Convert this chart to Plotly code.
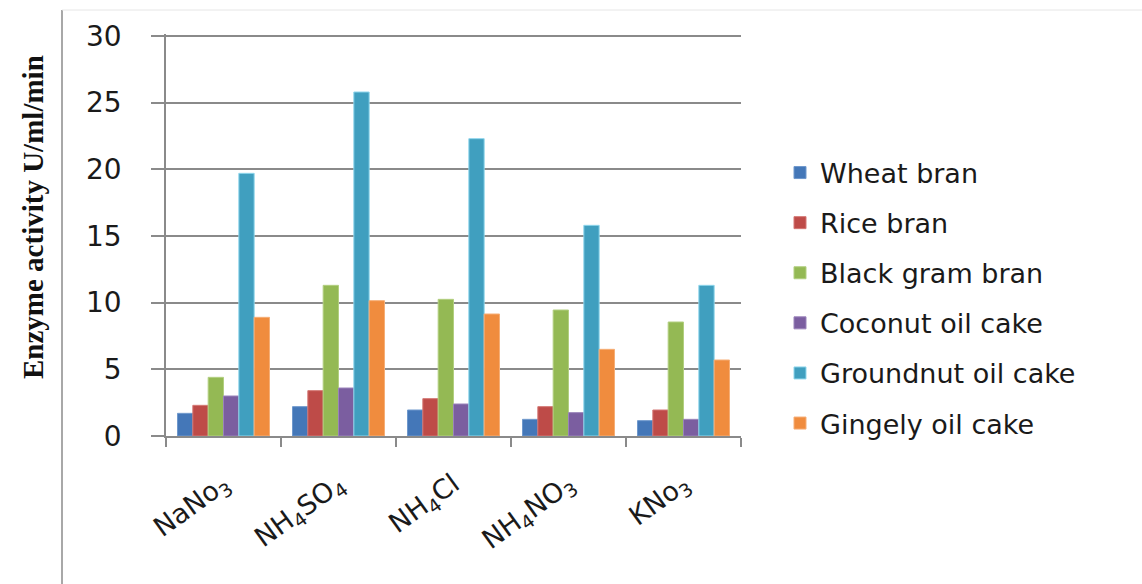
import plotly.graph_objects as go

# Nitrogen sources (x categories)
sources = ["NaNo<sub>3</sub>", "NH<sub>4</sub>SO<sub>4</sub>", "NH<sub>4</sub>Cl",
           "NH<sub>4</sub>NO<sub>3</sub>", "KNo<sub>3</sub>"]

# Enzyme activity (U/ml/min) per substrate
wheat_bran = [1.7, 2.2, 1.95, 1.25, 1.15]
rice_bran = [2.3, 3.4, 2.8, 2.2, 1.95]
black_gram_bran = [4.4, 11.3, 10.25, 9.45, 8.55]
coconut_oil_cake = [3.0, 3.6, 2.4, 1.75, 1.25]
groundnut_oil_cake = [19.7, 25.8, 22.3, 15.8, 11.3]
gingely_oil_cake = [8.9, 10.15, 9.15, 6.5, 5.7]

series_names = ["Wheat bran", "Rice bran", "Black gram bran",
                "Coconut oil cake", "Groundnut oil cake", "Gingely oil cake"]
series_values = [wheat_bran, rice_bran, black_gram_bran,
                 coconut_oil_cake, groundnut_oil_cake, gingely_oil_cake]
colors = ["#4477B8", "#BE4B48", "#94B954", "#7B5EA0", "#409FBF", "#F08C3E"]
edges = ["#6F98CC", "#D47774", "#B2CF80", "#9A83BA", "#8FD6EC", "#F6AE76"]

fig = go.Figure()
for name, vals, col, edge in zip(series_names, series_values, colors, edges):
    fig.add_trace(go.Bar(
        x=sources, y=vals, name=name, legendgroup=name,
        marker=dict(color=col, line=dict(color=edge, width=1)),
    ))

W, H = 1142, 584
Y_TOP = 30.15                      # a little headroom so the 30 gridline is drawn
L, R, B = 166, 741, 436
PX_PER_UNIT = 400 / 30
T = round(B - Y_TOP * PX_PER_UNIT)
ml, mr, mt, mb = L, W - R, T, H - B

grid_col = "#8A8A8A"
label_font = dict(family="DejaVu Sans", size=28, color="#1A1A1A")

fig.update_layout(
    width=W, height=H,
    margin=dict(l=ml, r=mr, t=mt, b=mb, pad=0),
    paper_bgcolor="white", plot_bgcolor="white",
    barmode="group", bargap=0.2, bargroupgap=0.0,
    showlegend=True,
    legend=dict(
        x=(780 - L) / (R - L), xanchor="left",
        y=(B - 298) / (B - T), yanchor="middle",
        font=dict(family="DejaVu Sans", size=27, color="#1A1A1A"),
        tracegroupgap=12, traceorder="grouped",
        bgcolor="rgba(0,0,0,0)", itemwidth=30,
    ),
    xaxis=dict(
        type="category", showgrid=False, zeroline=False,
        showline=True, linecolor=grid_col, linewidth=1.5,
        ticks="outside", tickson="boundaries", ticklen=9,
        tickcolor=grid_col, tickwidth=1.5,
        tickangle=-36, ticklabelstandoff=20,
        tickfont=dict(family="DejaVu Sans", size=27, color="#1A1A1A"),
    ),
    yaxis=dict(
        range=[0, Y_TOP], dtick=5, tick0=0,
        showgrid=True, gridcolor=grid_col, gridwidth=1.5,
        zeroline=False,
        showline=True, linecolor=grid_col, linewidth=1.5,
        ticks="outside", ticklen=13, tickcolor=grid_col, tickwidth=1.5,
        tickfont=label_font, ticklabelstandoff=24,
    ),
    annotations=[dict(
        text="<b>Enzyme activity U/ml/min</b>",
        xref="paper", yref="paper",
        x=(33 - L) / (R - L), y=(B - 217) / (B - T),
        xanchor="center", yanchor="middle",
        textangle=-90, showarrow=False,
        font=dict(family="Liberation Serif", size=29, color="#111111"),
    )],
    shapes=[
        dict(type="line", xref="paper", yref="paper",
             x0=(62 - L) / (R - L), x1=(62 - L) / (R - L),
             y0=(B - 10) / (B - T), y1=(B - H) / (B - T),
             line=dict(color="#A8A8A8", width=2)),
        dict(type="line", xref="paper", yref="paper",
             x0=(62 - L) / (R - L), x1=(W - L) / (R - L),
             y0=(B - 10) / (B - T), y1=(B - 10) / (B - T),
             line=dict(color="#E6E6E6", width=1)),
    ],
)

fig.write_html("out.html")
